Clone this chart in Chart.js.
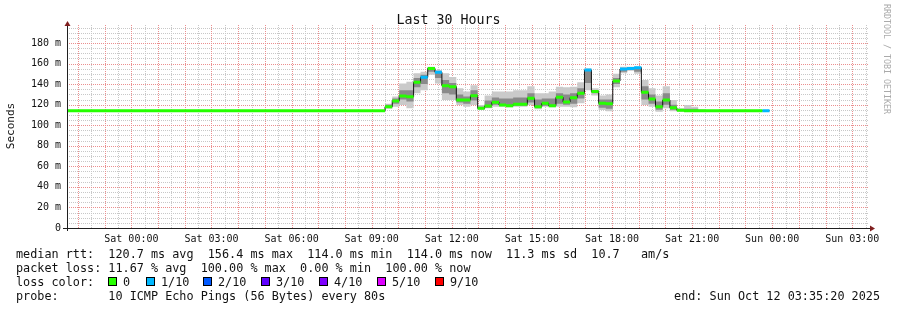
<!DOCTYPE html>
<html>
<head>
<meta charset="utf-8">
<script src="https://cdn.jsdelivr.net/npm/chart.js@4/dist/chart.umd.min.js"></script>
<style>
  body { margin: 0; background: #fff; }
  #wrap { position: relative; width: 897px; height: 310px; font-family: "DejaVu Sans Mono", monospace; color: #111; }
  #c { position: absolute; left: 0; top: 0; }
  .t { position: absolute; white-space: pre; font-size: 11.8px; line-height: 14px; }
  .box { position: absolute; width: 7px; height: 7px; border: 1px solid #000; }
</style>
</head>
<body>
<div id="wrap">
  <canvas id="c" width="897" height="310"></canvas>
  <div class="t" style="left:0;width:897px;top:13px;text-align:center;font-size:13.3px;">Last 30 Hours</div>
  <div class="t" style="left:-19px;top:119px;width:60px;text-align:center;font-size:11px;transform:rotate(-90deg);">Seconds</div>
  <div class="t" style="left:880px;top:4px;font-size:8.3px;color:#aaa;writing-mode:vertical-rl;">RRDTOOL / TOBI OETIKER</div>
  <div id="legend"></div>
</div>
<script>
// time axis in hours counted from Fri 00:00
const startHour = 21.58889;
const endHour = 51.58889;
const dataEnd = 47.90;

const stepStart = [21.59, 33.50, 33.77, 34.03, 34.30, 34.57, 34.83, 35.10, 35.37, 35.63, 35.90, 36.17,
  36.43, 36.70, 36.97, 37.23, 37.50, 37.77, 38.03, 38.30, 38.57, 38.83, 39.10, 39.37, 39.63, 39.90,
  40.17, 40.43, 40.70, 40.97, 41.23, 41.50, 41.77, 42.03, 42.30, 42.57, 42.83, 43.10, 43.37, 43.63,
  43.90, 44.17, 44.43, 44.70, 44.97, 45.23, 45.50, 47.63];
const median = [114, 118, 123.5, 128.4, 127.7, 141.7, 146.6, 155.3, 151.5, 138.4, 137.5, 124.5,
  124.5, 128.7, 116.4, 118.7, 122.3, 119.6, 119.0, 120.3, 120.3, 126.2, 118.0, 121.3, 119.0, 127.1,
  122.6, 126.8, 131.0, 153.7, 132.8, 121.3, 120.8, 143.0, 154.7, 155.3, 156.0, 132.0, 125.5, 118.0,
  124.5, 117.0, 114.5, 114, 114, 114, 114, 114];
const loss = [0, 0, 0, 0, 0, 0, 1, 0, 1, 0, 0, 0, 0, 0, 0, 0, 0, 0, 0, 0, 0, 0, 0, 0, 0, 0, 0, 0, 0,
  1, 0, 0, 0, 0, 1, 1, 1, 0, 0, 0, 0, 0, 0, 0, 0, 0, 0, 1];
const smokeLo = [114, 116, 118, 119.6, 116.4, 131, 134, 149, 140.7, 124.5, 124.5, 119.6, 118, 119.6,
  114.8, 116.4, 118, 118, 117.4, 118, 118, 119.6, 115.5, 118, 117.4, 118, 118, 117.4, 121.3, 134, 129,
  114.8, 113.5, 137, 150.5, 153, 150, 119.6, 118, 113, 116.4, 113.5, 113, 113, 113, 113, 114, 114];
const smokeHi = [114, 121, 128, 140.7, 142.3, 150.5, 152, 157, 153.7, 150.5, 147, 136, 132.7, 139,
  119.6, 129, 132.7, 132.7, 132.7, 134, 134, 138, 131, 131, 132.7, 137.5, 137, 137.5, 141.7, 155.3, 136,
  129, 130, 150, 157, 157, 157, 144, 136, 129, 138, 124.5, 116.4, 119.6, 118, 115.5, 114, 114];
const coreLo = [114, 117, 121, 125, 123, 137, 140, 152, 146, 131, 130, 122, 121, 124, 116, 117, 120,
  119, 119, 119, 119, 122, 117, 119, 119, 121, 120, 121, 126, 141, 131, 117, 116, 140, 152, 154, 152,
  125, 121, 115, 120, 115, 114, 114, 114, 114, 114, 114];
const coreHi = [114, 120, 126, 134, 134, 146, 149, 156, 152, 144, 141, 130, 128, 134, 118, 124, 127,
  126, 126, 127, 127, 131, 125, 126, 126, 131, 130, 131, 136, 154, 134, 125, 125, 146, 155.5, 156, 156.5,
  138, 130, 123, 131, 120, 115, 116, 116, 114.5, 114, 114];

const lossColors = ["#26ff00", "#00b8ff", "#0059ff", "#5e00ff", "#7e00ff", "#dd00ff"];
const lossLabels = ["0", "1/10", "2/10", "3/10", "4/10", "5/10", "9/10"];
const lossLegendColors = ["#26ff00", "#00b8ff", "#0059ff", "#5e00ff", "#7e00ff", "#dd00ff", "#ff0000"];

function stepped(values) {
  const pts = stepStart.map((x, i) => ({ x: x, y: values[i] }));
  pts.push({ x: dataEnd, y: values[values.length - 1] });
  return pts;
}

function lossSegments(level) {
  const pts = [];
  for (let i = 0; i < stepStart.length; i++) {
    if (loss[i] !== level) continue;
    const x1 = i + 1 < stepStart.length ? stepStart[i + 1] : dataEnd;
    pts.push({ x: stepStart[i], y: median[i] }, { x: x1, y: median[i] }, { x: x1, y: null });
  }
  return pts;
}

// chart.js "true"/"before" keeps the previous value until the next point
const datasets = [
  { data: stepped(smokeLo), stepped: true, borderWidth: 0, borderColor: "rgba(0,0,0,0)", fill: false, order: 5 },
  { data: stepped(smokeHi), stepped: true, borderWidth: 0, borderColor: "rgba(0,0,0,0)", backgroundColor: "#cacaca", fill: 0, order: 4 },
  { data: stepped(coreLo), stepped: true, borderWidth: 0, borderColor: "rgba(0,0,0,0)", fill: false, order: 5 },
  { data: stepped(coreHi), stepped: true, borderWidth: 0, borderColor: "rgba(0,0,0,0)", backgroundColor: "#8a8a8a", fill: 2, order: 3 },
  { data: stepped(median), stepped: true, borderWidth: 1, borderColor: "#111", fill: false, order: 2 }
];
[0, 1].forEach(level => {
  datasets.push({ data: lossSegments(level), borderWidth: 3, borderColor: lossColors[level], borderCapStyle: "butt", fill: false, spanGaps: false, order: 1 });
});

const days = ["Fri", "Sat", "Sun"];
const red = "#eb8f8f";
const grey = "#c8c8c8";

// rrdtool style dotted grid, placed with the scales' own pixel mapping
const dottedGrid = {
  id: "dottedGrid",
  beforeDatasetsDraw(chart) {
    const c = chart.ctx, a = chart.chartArea;
    const xs = chart.scales.x, ys = chart.scales.y;
    c.save();
    c.lineWidth = 1;
    c.setLineDash([1, 1]);
    // minor lines first, major lines on top
    [false, true].forEach(major => {
      c.strokeStyle = major ? red : grey;
      c.beginPath();
      xs.ticks.forEach(t => {
        if (Number.isInteger(t.value) !== major) return;
        const px = Math.round(xs.getPixelForValue(t.value)) + 0.5;
        c.moveTo(px, a.bottom); c.lineTo(px, a.top);
      });
      ys.ticks.forEach(t => {
        if (t.value === 0 || (t.value % 20 === 0) !== major) return;
        const py = Math.round(ys.getPixelForValue(t.value)) + 0.5;
        c.moveTo(a.left, py); c.lineTo(a.right, py);
      });
      c.stroke();
    });
    c.restore();
  },
  afterDraw(chart) {
    const c = chart.ctx, a = chart.chartArea;
    c.save();
    c.strokeStyle = "#1f1f1f";
    c.lineWidth = 1;
    c.beginPath();
    c.moveTo(a.left + 0.5, a.bottom + 3);
    c.lineTo(a.left + 0.5, a.top - 1);
    c.moveTo(a.left - 4, a.bottom + 0.5);
    c.lineTo(a.right + 4, a.bottom + 0.5);
    c.stroke();
    c.fillStyle = "#801f1f";
    c.beginPath();
    c.moveTo(a.left + 0.5, a.top - 4);
    c.lineTo(a.left - 2.5, a.top + 1);
    c.lineTo(a.left + 3.5, a.top + 1);
    c.fill();
    c.beginPath();
    c.moveTo(a.right + 7, a.bottom + 0.5);
    c.lineTo(a.right + 2, a.bottom - 2.5);
    c.lineTo(a.right + 2, a.bottom + 3.5);
    c.fill();
    c.restore();
  }
};

new Chart(document.getElementById("c"), {
  type: "line",
  data: { datasets: datasets },
  options: {
    responsive: false,
    animation: false,
    events: [],
    layout: { padding: { top: 25, right: 29, bottom: 0, left: 0 } },
    elements: { point: { radius: 0 }, line: { tension: 0 } },
    plugins: { legend: { display: false }, tooltip: { enabled: false } },
    scales: {
      x: {
        type: "linear",
        min: startHour,
        max: endHour,
        afterBuildTicks: s => { s.ticks = []; for (let v = 22; v <= 51.5; v += 0.5) s.ticks.push({ value: v }); },
        afterFit: s => { s.height = 82; },
        border: { display: false },
        grid: { display: false, drawTicks: false },
        ticks: {
          autoSkip: false, maxRotation: 0, padding: 5, color: "#111",
          font: { family: "DejaVu Sans Mono", size: 10 },
          callback: v => {
            if (v % 3 !== 0) return "";
            const d = Math.floor(v / 24);
            return days[d] + " " + String(v - d * 24).padStart(2, "0") + ":00";
          }
        }
      },
      y: {
        min: 0,
        max: 197.5,
        afterBuildTicks: s => { s.ticks = []; for (let v = 0; v <= 195; v += 5) s.ticks.push({ value: v }); },
        afterFit: s => { s.width = 67; },
        border: { display: false },
        grid: { display: false, drawTicks: false },
        ticks: {
          autoSkip: false, padding: 6, color: "#111",
          font: { family: "DejaVu Sans Mono", size: 10 },
          callback: v => v % 20 !== 0 ? "" : (v === 0 ? "0" : v + " m")
        }
      }
    }
  },
  plugins: [dottedGrid]
});

// legend block under the graph
const legendLines = [
  ["median rtt:  120.7 ms avg  156.4 ms max  114.0 ms min  114.0 ms now  11.3 ms sd  10.7   am/s", 247],
  ["packet loss: 11.67 % avg  100.00 % max  0.00 % min  100.00 % now", 261],
  ["loss color:", 275],
  ["probe:       10 ICMP Echo Pings (56 Bytes) every 80s", 289]
];
const boxLeft = [108, 146, 203, 261, 319, 377, 435];
const legend = document.getElementById("legend");
let html = "";
legendLines.forEach(([txt, y]) => { html += `<div class="t" style="left:16px;top:${y}px">${txt}</div>`; });
boxLeft.forEach((x, i) => {
  html += `<div class="box" style="left:${x}px;top:277px;background:${lossLegendColors[i]}"></div>`;
  html += `<div class="t" style="left:${x + 15}px;top:275px">${lossLabels[i]}</div>`;
});
html += `<div class="t" style="right:17px;top:289px">end: Sun Oct 12 03:35:20 2025</div>`;
legend.innerHTML = html;
</script>
</body>
</html>
